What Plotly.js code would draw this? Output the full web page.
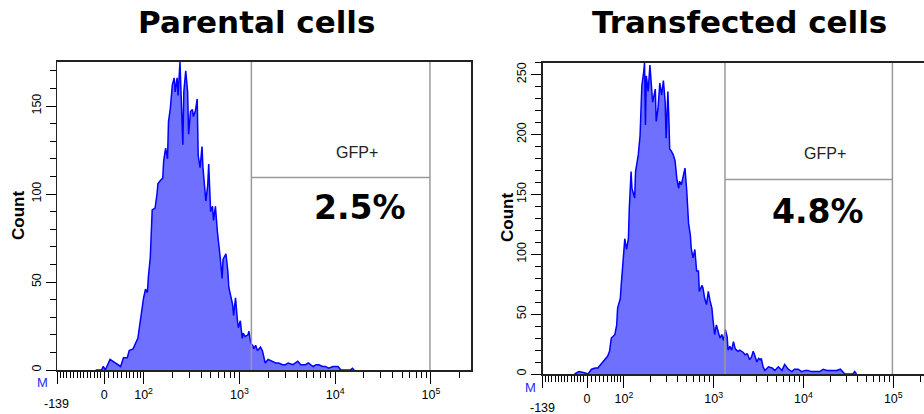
<!DOCTYPE html>
<html><head><meta charset="utf-8">
<script src="https://cdn.plot.ly/plotly-3.0.1.min.js"></script>
<style>
html,body{margin:0;padding:0;overflow:hidden;background:#fff;width:924px;height:414px}
#plot{width:935px;height:414px}
</style>
</head><body><div id="plot"></div>
<script>
// ---- data: histogram channels (display channel, 100 per decade) and counts ----
const parentalChannel = [150,156,158,160,165,168,176,179,183,185,
  189,194,197,200,202,204,205,207,209,212,
  214,215,218,220,221,223,225,226,228,230,
  232,233,235,236,238,241,242,244,246,247,
  249,251,252,254,256,257,259,261,262,265,
  267,268,270,272,273,275,277,278,280,282,
  283,286,288,289,291,293,294,296,298,299,
  301,303,304,306,309,310,312,314,315,317,
  319,322,324,325,327,330,335,338,341,345,
  348,351,356,361,364,369,372,377,380,383,
  387,390,393,398,403,406,416,418,420];
const parentalCount = [0,0,2,0,6,5,2,7,7,11,
  12,18,30,41,46,44,53,64,91,92,
  100,106,108,109,119,126,120,141,149,162,
  166,158,166,156,175,128,158,170,158,134,
  147,148,144,147,154,122,115,127,115,96,
  105,117,90,93,85,93,79,75,64,52,
  63,66,56,47,41,37,31,41,28,24,
  28,18,21,19,20,22,15,14,12,14,
  11,13,11,8,4,6,5,4,4,3,
  3,4,3,5,3,3,4,2,3,3,
  2,2,1,2,2,0,0,1,0];

const transfectedChannel = [145,150,156,160,164,168,171,175,179,182,
  184,186,190,192,193,196,197,199,201,203,
  205,206,208,209,212,213,214,216,218,220,
  222,223,224,225,227,229,232,235,236,238,
  240,242,244,246,247,249,250,251,253,255,
  257,259,261,262,264,266,268,270,272,274,
  275,277,279,281,283,284,287,288,290,292,
  294,296,298,299,301,303,305,307,309,311,
  313,315,316,318,320,322,324,326,327,329,
  331,333,335,337,338,340,342,344,346,348,
  350,352,353,355,357,361,365,368,372,376,
  379,383,387,390,394,398,402,405,409,413,
  416,418,422,426,429,433,437,441,444,446,
  455,457,459];
const transfectedCount = [0,2,1,0,4,5,5,9,13,15,
  19,30,33,41,55,63,74,97,113,104,
  113,138,169,155,147,169,174,183,199,241,
  252,260,208,249,236,258,227,238,211,222,
  243,233,245,227,197,236,216,188,186,183,
  178,163,155,161,158,165,172,153,126,116,
  105,97,104,86,86,69,74,72,63,58,
  69,61,55,47,33,41,36,30,33,28,
  37,31,20,23,20,27,21,20,19,20,
  19,18,16,17,16,12,14,19,15,10,
  13,12,13,6,3,6,5,3,6,3,
  8,4,2,4,4,2,3,3,2,2,
  2,2,4,3,3,3,3,4,1,0,
  0,2,0];

const panelTitles = ['Parental cells', 'Transfected cells'];
const gfpPercent = ['2.5%', '4.8%'];
const gateName = 'GFP+';
const gateLowValue = 1335;
const gateHighValue = 97700;
const axisMinValue = -139;
const axisMaxValue = 262144;

const xMajorValues = [-139, 0, 100, 1000, 10000, 100000];
const xMajorLabels = [' ', '0', '10<sup>2</sup>', '10<sup>3</sup>', '10<sup>4</sup>', '10<sup>5</sup>'];
const xMinorValues = [-130,-120,-110,-100,-90,-80,-70,-60,-50,-40,-30,-20,-10,
  10,20,30,40,50,60,70,80,90,
  200,300,400,500,600,700,800,900,
  2000,3000,4000,5000,6000,7000,8000,9000,
  20000,30000,40000,50000,60000,70000,80000,90000,200000];

// biexponential-like display transform (value -> display channel)
function chan(v){
  if (v >= 100) return 100*Math.log10(v);
  if (v >= 0) return 159 + 43.43*Math.asinh(v/91.7);
  return 159 + 0.3554*v;
}

const W = 935, H = 414;
const fillCol = 'rgb(112,112,255)', lineCol = 'rgb(0,0,255)';
const tickFont = {family:'Liberation Sans, Arial, sans-serif', size:12.5, color:'#000'};

function xAxis(domain, anchor){
  return {domain: domain, anchor: anchor, range:[chan(axisMinValue), chan(axisMaxValue)],
    tickmode:'array', tickvals: xMajorValues.map(chan), ticktext: xMajorLabels,
    ticks:'outside', ticklen:12, tickwidth:1, tickcolor:'#000',
    minor:{tickmode:'array', tickvals: xMinorValues.map(chan), ticks:'outside', ticklen:6, tickwidth:1, tickcolor:'#000'},
    showline:true, mirror:true, linecolor:'#222', linewidth:2,
    showgrid:false, zeroline:false, tickfont: tickFont, fixedrange:true};
}
function yAxis(domain, anchor, top, dt){
  return {domain: domain, anchor: anchor, range:[0, top],
    tickmode:'linear', tick0:0, dtick:dt, tickangle:-90,
    ticks:'outside', ticklen:10, tickwidth:1, tickcolor:'#000',
    minor:{tickmode:'linear', tick0:0, dtick:10, ticks:'outside', ticklen:6, tickwidth:1, tickcolor:'#000'},
    showline:true, mirror:true, linecolor:'#222', linewidth:1.5,
    showgrid:false, zeroline:false, tickfont: tickFont, fixedrange:true};
}

const topL = Math.max(...parentalCount);
const topR = Math.max(...transfectedCount);

const traces = [
  {x: parentalChannel, y: parentalCount, xaxis:'x', yaxis:'y', type:'scatter', mode:'lines',
   line:{color:lineCol, width:1.5}, fill:'tozeroy', fillcolor:fillCol, hoverinfo:'skip'},
  {x: transfectedChannel, y: transfectedCount, xaxis:'x2', yaxis:'y2', type:'scatter', mode:'lines',
   line:{color:lineCol, width:1.5}, fill:'tozeroy', fillcolor:fillCol, hoverinfo:'skip'}
];

function gateShapes(xr, yr, top){
  const g = {color:'#9a9a9a', width:1.5};
  const a = chan(gateLowValue), b = chan(gateHighValue);
  return [
    {type:'line', xref:xr, yref:yr, x0:a, x1:a, y0:0, y1:top, line:g},
    {type:'line', xref:xr, yref:yr, x0:b, x1:b, y0:0, y1:top, line:g},
    {type:'line', xref:xr, yref:yr, x0:a, x1:b, y0:top*0.625, y1:top*0.625, line:g}
  ];
}

const px = (x)=> x/W, py = (y)=> 1 - y/H;
const ann = (text, x, y, font, extra)=> Object.assign({text:text, xref:'paper', yref:'paper', x:px(x), y:py(y),
  xanchor:'center', yanchor:'middle', showarrow:false, font:font}, extra||{});
const titleFont = {family:'DejaVu Sans, Verdana, sans-serif', size:31, color:'#000'};
const pctFont = {family:'DejaVu Sans, Verdana, sans-serif', size:33, color:'#000'};
const countFont = {family:'Liberation Sans, Arial, sans-serif', size:17, color:'#000'};
const gfpFont = {family:'Liberation Sans, Arial, sans-serif', size:16, color:'#222'};
const mFont = {family:'Liberation Sans, Arial, sans-serif', size:13, color:'#2a2aff'};

const layout = {
  width: W, height: H, margin:{l:0,r:0,t:0,b:0}, showlegend:false,
  paper_bgcolor:'#fff', plot_bgcolor:'#fff',
  xaxis: xAxis([57/W, 471/W], 'y'),
  yaxis: yAxis([py(370), py(62)], 'x', topL, 50),
  xaxis2: xAxis([542.7/W, 930.9/W], 'y2'),
  yaxis2: yAxis([py(374), py(62.7)], 'x2', topR, 50),
  shapes: gateShapes('x','y',topL).concat(gateShapes('x2','y2',topR)),
  annotations: [
    ann('<b>'+panelTitles[0]+'</b>', 256, 22, titleFont),
    ann('<b>'+panelTitles[1]+'</b>', 739, 22, titleFont),
    ann('<b>Count</b>', 18, 216, countFont, {textangle:-90}),
    ann('<b>Count</b>', 507, 218, countFont, {textangle:-90}),
    ann(gateName, 357, 152, gfpFont),
    ann(gateName, 825, 153, gfpFont),
    ann('<b>'+gfpPercent[0]+'</b>', 360, 207, pctFont),
    ann('<b>'+gfpPercent[1]+'</b>', 818, 211, pctFont),
    ann('M', 42, 382, mFont),
    ann('M', 530, 387, mFont),
    ann(String(axisMinValue), 56, 404, tickFont),
    ann(String(axisMinValue), 542, 408, tickFont)
  ]
};

Plotly.newPlot('plot', traces, layout, {staticPlot:true, displayModeBar:false});
</script>
</body></html>
